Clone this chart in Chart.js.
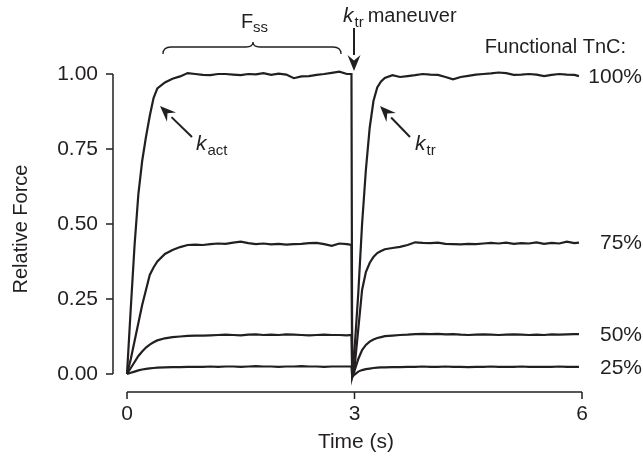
<!DOCTYPE html>
<html lang="en">
<head>
<meta charset="UTF-8">
<title>Relative force traces</title>
<script src="https://cdn.jsdelivr.net/npm/chart.js"></script>
<style>
  body { margin: 0; background: #fff; }
</style>
</head>
<body>
<canvas id="myChart" width="643" height="458"></canvas>
<script>
// sample times (s)
const timeS = [
  0, 0.05, 0.1, 0.15, 0.2, 0.25, 0.3, 0.35, 0.4,
  0.5, 0.6, 0.7, 0.8, 0.9, 1.0, 1.1, 1.2, 1.3, 1.4, 1.5, 1.6, 1.7, 1.8, 1.9,
  2.0, 2.1, 2.2, 2.3, 2.4, 2.5, 2.6, 2.7, 2.8, 2.9,
  2.96, 2.97, 2.98,
  3.0, 3.05, 3.1, 3.15, 3.2, 3.25, 3.3, 3.35, 3.4,
  3.5, 3.6, 3.7, 3.8, 3.9, 4.0, 4.1, 4.2, 4.3, 4.4, 4.5, 4.6, 4.7, 4.8, 4.9,
  5.0, 5.1, 5.2, 5.3, 5.4, 5.5, 5.6, 5.7, 5.8, 5.9,
  5.96
];

// relative force, one array per functional TnC level
const force100 = [
  0, 0.22, 0.43, 0.60, 0.71, 0.79, 0.86, 0.92, 0.952,
  0.972, 0.984, 0.992, 1.003, 1.0, 0.997, 0.996, 1.0, 1.0, 0.998, 0.996, 1.0, 0.999, 1.003, 0.997,
  1.001, 0.998, 0.986, 0.992, 0.993, 0.997, 1.0, 1.004, 1.008, 1.0,
  1.0, -0.01, -0.01,
  0.08, 0.27, 0.50, 0.68, 0.82, 0.91, 0.955, 0.975, 0.987,
  0.996, 0.99, 0.993, 0.996, 1.0, 0.998, 0.997, 0.99, 0.982, 0.99, 0.994, 0.998, 1.0, 1.002, 1.005,
  1.003, 0.997, 0.998, 1.0, 0.998, 0.993, 0.997, 1.0, 0.998, 0.997,
  0.993
];
const force75 = [
  0, 0.05, 0.11, 0.17, 0.23, 0.28, 0.33, 0.355, 0.375,
  0.40, 0.413, 0.423, 0.43, 0.431, 0.43, 0.433, 0.435, 0.434, 0.438, 0.441, 0.436, 0.433, 0.435, 0.432,
  0.434, 0.431, 0.433, 0.434, 0.436, 0.437, 0.433, 0.427, 0.435, 0.433,
  0.43, -0.01, -0.01,
  0.02, 0.15, 0.28, 0.34, 0.37, 0.39, 0.403, 0.41, 0.416,
  0.42, 0.424, 0.43, 0.439, 0.437, 0.436, 0.438, 0.434, 0.433, 0.432, 0.434, 0.433, 0.435, 0.437, 0.435,
  0.438, 0.434, 0.436, 0.435, 0.439, 0.434, 0.437, 0.435, 0.441, 0.436,
  0.438
];
const force50 = [
  0, 0.02, 0.04, 0.06, 0.075, 0.088, 0.098, 0.106, 0.112,
  0.119, 0.123, 0.125, 0.127, 0.128, 0.128, 0.129, 0.13, 0.131, 0.13, 0.129, 0.131, 0.132, 0.13, 0.131,
  0.13, 0.132, 0.131, 0.13, 0.129, 0.13, 0.131, 0.13, 0.13, 0.129,
  0.13, -0.01, -0.01,
  0.01, 0.05, 0.08, 0.097, 0.108, 0.115, 0.12, 0.123, 0.126,
  0.128, 0.13, 0.131, 0.133, 0.134, 0.133, 0.134, 0.132, 0.133, 0.131, 0.13, 0.131, 0.132, 0.131, 0.13,
  0.131, 0.132, 0.131, 0.13, 0.131, 0.13, 0.132, 0.131, 0.132, 0.133,
  0.133
];
const force25 = [
  0, 0.004, 0.008, 0.012, 0.015, 0.017, 0.019, 0.02, 0.021,
  0.022, 0.023, 0.023, 0.024, 0.024, 0.024, 0.025, 0.024, 0.025, 0.025, 0.024, 0.025, 0.026, 0.025, 0.025,
  0.024, 0.025, 0.025, 0.026, 0.025, 0.025, 0.024, 0.025, 0.025, 0.025,
  0.025, -0.01, -0.01,
  -0.002, 0.008, 0.013, 0.016, 0.018, 0.02, 0.021, 0.022, 0.022,
  0.023, 0.023, 0.024, 0.024, 0.025, 0.024, 0.024, 0.025, 0.024, 0.024, 0.023, 0.024, 0.024, 0.025, 0.024,
  0.024, 0.024, 0.025, 0.024, 0.024, 0.024, 0.024, 0.025, 0.024, 0.024,
  0.024
];

const levelLabels = ['100%', '75%', '50%', '25%'];
const xTicks = [0, 3, 6];
const yTicks = [0, 0.25, 0.5, 0.75, 1.0];

const INK = '#231f20';
const FONT = '"Liberation Sans", Arial, Helvetica, sans-serif';

function toPoints(vals) {
  return timeS.map((t, i) => ({ x: t, y: vals[i] }));
}

function arrow(ctx, x1, y1, x2, y2) {
  const a = Math.atan2(y2 - y1, x2 - x1);
  const len = 16, half = 6.5;
  const bx = x2 - len * Math.cos(a), by = y2 - len * Math.sin(a);
  ctx.beginPath();
  ctx.moveTo(x1, y1);
  ctx.lineTo(bx, by);
  ctx.lineWidth = 2;
  ctx.stroke();
  ctx.beginPath();
  ctx.moveTo(x2, y2);
  ctx.lineTo(bx + half * Math.sin(a), by - half * Math.cos(a));
  ctx.lineTo(bx + 0.35 * len * Math.cos(a), by + 0.35 * len * Math.sin(a));
  ctx.lineTo(bx - half * Math.sin(a), by + half * Math.cos(a));
  ctx.closePath();
  ctx.fill();
}

// italic k with a subscript
function kSub(ctx, sub, x, y) {
  ctx.textAlign = 'left';
  ctx.textBaseline = 'alphabetic';
  ctx.font = 'italic 21px ' + FONT;
  ctx.fillText('k', x, y);
  const w = ctx.measureText('k').width;
  ctx.font = '15px ' + FONT;
  ctx.fillText(sub, x + w + 1, y + 5);
  return x + w + 1 + ctx.measureText(sub).width;
}

const decorations = {
  id: 'decorations',
  afterDraw(chart) {
    const ctx = chart.ctx;
    const xs = chart.scales.x, ys = chart.scales.y;
    ctx.save();
    ctx.strokeStyle = INK;
    ctx.fillStyle = INK;

    // y axis, set off to the left
    const axX = 113;
    ctx.lineWidth = 1.5;
    ctx.beginPath();
    ctx.moveTo(axX, ys.getPixelForValue(1));
    ctx.lineTo(axX, ys.getPixelForValue(0));
    yTicks.forEach(v => {
      const p = ys.getPixelForValue(v);
      ctx.moveTo(axX - 7, p);
      ctx.lineTo(axX, p);
    });
    ctx.stroke();
    ctx.font = '21px ' + FONT;
    ctx.textAlign = 'right';
    ctx.textBaseline = 'middle';
    yTicks.forEach(v => ctx.fillText(v.toFixed(2), 98, ys.getPixelForValue(v)));

    // x axis, set off below
    const axY = 392;
    ctx.beginPath();
    ctx.moveTo(xs.getPixelForValue(0), axY);
    ctx.lineTo(xs.getPixelForValue(6), axY);
    xTicks.forEach(v => {
      const p = xs.getPixelForValue(v);
      ctx.moveTo(p, axY);
      ctx.lineTo(p, axY + 7);
    });
    ctx.stroke();
    ctx.textAlign = 'center';
    xTicks.forEach(v => ctx.fillText(String(v), xs.getPixelForValue(v), 414));
    ctx.fillText('Time (s)', 356, 442);

    ctx.save();
    ctx.translate(21, 229);
    ctx.rotate(-Math.PI / 2);
    ctx.font = '20px ' + FONT;
    ctx.fillText('Relative Force', 0, 0);
    ctx.restore();

    // level labels at the right end of each trace
    ctx.font = '21px ' + FONT;
    ctx.textAlign = 'right';
    const lastI = timeS.length - 1;
    [force100, force75, force50, force25].forEach((arr, i) => {
      ctx.fillText(levelLabels[i], 642, ys.getPixelForValue(arr[lastI]) + 1);
    });
    ctx.font = '20px ' + FONT;
    ctx.fillText('Functional TnC:', 626, 47);

    // F_ss with brace
    ctx.textAlign = 'left';
    ctx.textBaseline = 'alphabetic';
    ctx.font = '20px ' + FONT;
    ctx.fillText('F', 241, 28);
    ctx.font = '15px ' + FONT;
    ctx.fillText('ss', 253, 32);
    ctx.lineWidth = 1.3;
    ctx.beginPath();
    ctx.moveTo(163, 54);
    ctx.quadraticCurveTo(163, 47, 171, 47);
    ctx.lineTo(246, 47);
    ctx.quadraticCurveTo(253, 47, 253, 42);
    ctx.quadraticCurveTo(253, 47, 260, 47);
    ctx.lineTo(333, 47);
    ctx.quadraticCurveTo(341, 47, 341, 54);
    ctx.stroke();

    // k_tr maneuver
    const end = kSub(ctx, 'tr', 343, 22);
    ctx.font = '20px ' + FONT;
    ctx.fillText('maneuver', end + 4, 22);
    arrow(ctx, 354, 28, 354, 71);

    // rate constant arrows
    arrow(ctx, 192, 137, 160, 106);
    kSub(ctx, 'act', 196, 150);
    arrow(ctx, 410, 137, 380, 106);
    kSub(ctx, 'tr', 415, 150);

    ctx.restore();
  }
};

const ctx = document.getElementById('myChart').getContext('2d');
const chart = new Chart(ctx, {
  type: 'line',
  data: {
    datasets: [force100, force75, force50, force25].map((vals, i) => ({
      label: levelLabels[i],
      data: toPoints(vals),
      borderColor: INK,
      borderWidth: 2.2,
      pointRadius: 0,
      tension: 0,
      fill: false,
      clip: false
    }))
  },
  options: {
    responsive: false,
    animation: false,
    devicePixelRatio: 1,
    layout: { padding: { left: 127, right: 61, top: 74, bottom: 66 } },
    plugins: { legend: { display: false }, tooltip: { enabled: false } },
    scales: {
      x: { type: 'linear', min: 0, max: 6, display: false },
      y: { type: 'linear', min: -0.06, max: 1.0, display: false }
    }
  },
  plugins: [decorations]
});
</script>
</body>
</html>
